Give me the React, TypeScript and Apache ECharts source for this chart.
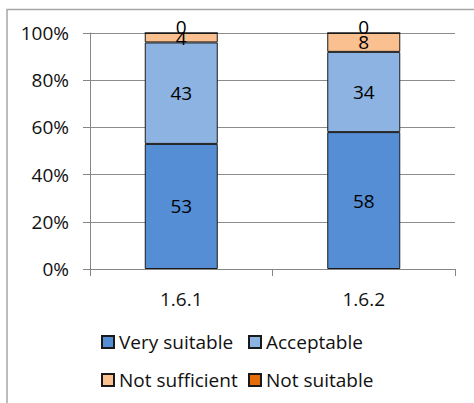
import React, { useEffect, useRef } from "react";
import * as echarts from "echarts";

const categories = ["1.6.1", "1.6.2"];
const verySuitable = [53, 58];
const acceptable = [43, 34];
const notSufficient = [4, 8];
const notSuitable = [0, 0];
const yTicks = [0, 20, 40, 60, 80, 100];

const FONT = "'Open Sans', sans-serif";

export default function App() {
  const ref = useRef<HTMLDivElement>(null);

  useEffect(() => {
    if (!ref.current) return;
    const chart = echarts.init(ref.current, undefined, { renderer: "svg" });

    const label = {
      show: true,
      position: "inside" as const,
      color: "#000",
      fontSize: 19,
      fontFamily: FONT,
    };
    const border = { borderColor: "#1a1a1a", borderWidth: 1 };

    const mk = (name: string, data: number[], color: string, extraLabel: any = {}) => ({
      name,
      type: "bar",
      stack: "total",
      barWidth: 73,
      data,
      itemStyle: { color, ...border },
      label: { ...label, ...extraLabel },
      emphasis: { disabled: true },
    });

    const legendText = { color: "#111", fontSize: 19, fontFamily: FONT, lineHeight: 20 };

    chart.setOption({
      animation: false,
      backgroundColor: "#fff",
      textStyle: { fontFamily: FONT },
      graphic: [
        {
          type: "rect",
          shape: { x: 7, y: 9.5, width: 600, height: 600 },
          style: { fill: "none", stroke: "#a6a6a6", lineWidth: 1.5 },
          silent: true,
        },
      ],
      grid: { left: 90, right: 19, top: 33, bottom: 134, containLabel: false },
      xAxis: {
        type: "category",
        data: categories,
        axisLine: { lineStyle: { color: "#868686", width: 1 } },
        axisTick: { show: true, length: 7, lineStyle: { color: "#868686" } },
        axisLabel: { color: "#111", fontSize: 19, fontFamily: FONT, margin: 20 },
      },
      yAxis: {
        type: "value",
        min: yTicks[0],
        max: yTicks[yTicks.length - 1],
        interval: 20,
        axisLine: { show: true, lineStyle: { color: "#868686", width: 1 } },
        axisTick: { show: true, length: 7, lineStyle: { color: "#868686" } },
        splitLine: { lineStyle: { color: "#8c8c8c", width: 1 } },
        axisLabel: {
          color: "#111",
          fontSize: 19,
          fontFamily: FONT,
          margin: 21,
          formatter: "{value}%",
        },
      },
      legend: [
        {
          orient: "vertical",
          left: 101,
          top: 332,
          padding: 0,
          itemWidth: 12,
          itemHeight: 12,
          itemGap: 18,
          icon: "rect",
          data: ["Very suitable", "Not sufficient"],
          textStyle: legendText,
          selectedMode: false,
        },
        {
          orient: "vertical",
          left: 248,
          top: 332,
          padding: 0,
          itemWidth: 12,
          itemHeight: 12,
          itemGap: 18,
          icon: "rect",
          data: ["Acceptable", "Not suitable"],
          textStyle: legendText,
          selectedMode: false,
        },
      ],
      series: [
        mk("Very suitable", verySuitable, "#558ED5"),
        mk("Acceptable", acceptable, "#8DB3E2"),
        mk("Not sufficient", notSufficient, "#FAC090"),
        mk("Not suitable", notSuitable, "#E46C0A", { offset: [0, -6] }),
      ],
    });

    return () => chart.dispose();
  }, []);

  return (
    <div
      ref={ref}
      style={{ position: "absolute", left: 0, top: 0, width: 474, height: 403, background: "#fff" }}
    />
  );
}
